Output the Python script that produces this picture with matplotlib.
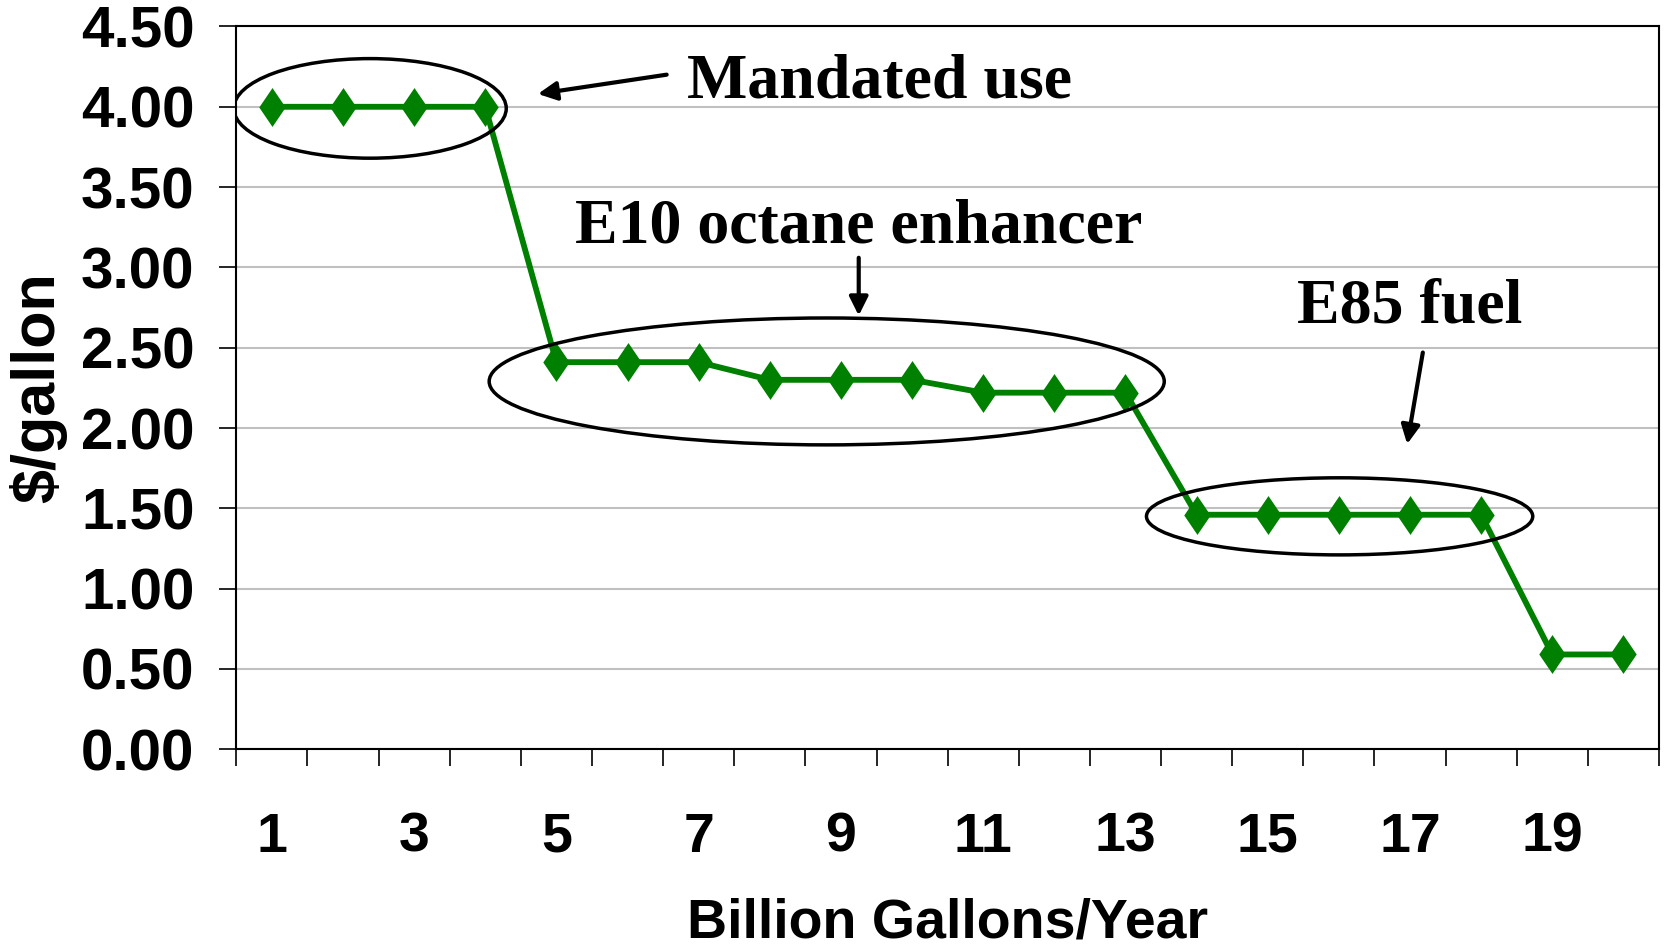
import matplotlib
matplotlib.use("Agg")
import matplotlib.pyplot as plt
from matplotlib.patches import Ellipse
from matplotlib import font_manager

# data
positions = list(range(1, 21))
prices = [4.00, 4.00, 4.00, 4.00,
          2.41, 2.41, 2.41,
          2.30, 2.30, 2.30,
          2.22, 2.22, 2.22,
          1.46, 1.46, 1.46, 1.46, 1.46,
          0.59, 0.59]
xtick_labels = ["1", "3", "5", "7", "9", "11", "13", "15", "17", "19"]
ytick_values = [0.0, 0.5, 1.0, 1.5, 2.0, 2.5, 3.0, 3.5, 4.0, 4.5]

# callouts: (label, text x, text y, ha, arrow tail, arrow tip, ellipse center, w, h)
notes = [
    ("Mandated use", 6.84, 4.15, "left", (6.55, 4.20), (4.74, 4.08), (2.38, 3.99), 3.83, 0.62),
    ("E10 octane enhancer", 9.25, 3.25, "center", (9.25, 3.06), (9.25, 2.70), (8.80, 2.29), 9.49, 0.79),
    ("E85 fuel", 16.99, 2.75, "center", (17.18, 2.47), (16.96, 1.90), (16.01, 1.45), 5.43, 0.48),
]

names = {f.name for f in font_manager.fontManager.ttflist}
narrow = "Liberation Sans Narrow" if "Liberation Sans Narrow" in names else "Liberation Sans"

plt.rcParams["font.family"] = ["Liberation Sans", "DejaVu Sans"]

fig = plt.figure(figsize=(16.64, 9.46), dpi=100)
ax = fig.add_axes([0.142, 0.208, 0.855, 0.764])

diamond = [(0, 1), (0.68, 0), (0, -1), (-0.68, 0), (0, 1)]
ax.plot(positions, prices, color="#008000", lw=4.2, marker=diamond,
        markersize=28, markeredgewidth=0, zorder=3, clip_on=False)

ax.set_xlim(0.5, 20.5)
ax.set_ylim(0, 4.5)

ax.set_yticks(ytick_values)
ax.set_yticklabels(["%.2f" % v for v in ytick_values], fontsize=42, fontweight="bold")
ax.set_xticks([i + 0.5 for i in range(0, 21)])
ax.set_xticklabels([])
ax.set_xticks(list(range(1, 21, 2)), minor=True)
ax.set_xticklabels(xtick_labels, minor=True, fontsize=40, fontweight="bold", family=narrow)
ax.tick_params(axis="x", which="major", length=12, width=1.2, direction="out")
ax.tick_params(axis="x", which="minor", length=0, pad=45)
ax.tick_params(axis="y", length=12, width=1.2, direction="out", pad=18)

ax.yaxis.grid(True, color="#c0c0c0", lw=1.5)
ax.set_axisbelow(True)
for s in ax.spines.values():
    s.set_linewidth(1.5)
    s.set_color("black")

ax.set_xlabel("Billion Gallons/Year", fontsize=40, fontweight="bold", family=narrow, labelpad=24)
ax.set_ylabel("$/gallon", fontsize=44, fontweight="bold", labelpad=10)

for label, tx, ty, ha, tail, tip, c, w, h in notes:
    ax.text(tx, ty, label, ha=ha, va="center", fontsize=46, fontweight="bold",
            family=["Liberation Serif", "DejaVu Serif"])
    ax.annotate("", xy=tip, xytext=tail,
                arrowprops=dict(arrowstyle="-|>", color="black", lw=3,
                                mutation_scale=28, shrinkA=0, shrinkB=0))
    ax.add_patch(Ellipse(c, w, h, fill=False, edgecolor="black", lw=2.5, zorder=4))

fig.savefig("out.png", dpi=100)
